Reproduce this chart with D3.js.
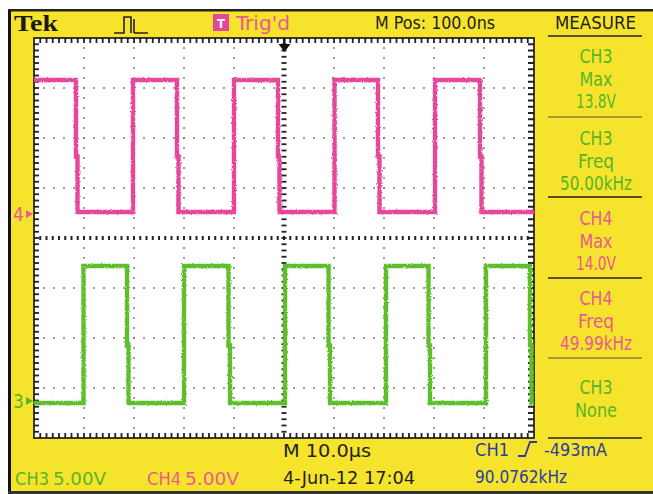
<!DOCTYPE html>
<html>
<head>
<meta charset="utf-8">
<script src="https://cdn.jsdelivr.net/npm/d3@7"></script>
<style>
  body { margin: 0; background: #fff; }
  svg { display: block; }
</style>
</head>
<body>
<div id="scope"></div>
<script>
// time axis in microseconds, 10 us/div, trigger at centre
const timeDomain = [-50, 50];
const divDomain = [-4, 4];

// CH4 (magenta): edge times in us, starts high
const ch4Edges = [-41.6, -30.2, -21.4, -10.0, -1.2, 10.1, 18.8, 30.2, 39.2];
const ch4Levels = {high: 13.4, low: 0.2, startHigh: true};
const ch4Offset = 0.48; // ground marker, in divisions

// CH3 (green): edge times in us, starts low
const ch3Edges = [-40.1, -31.4, -20.0, -11.1, 0.2, 8.9, 20.4, 28.9, 40.4, 49.2];
const ch3Levels = {high: 13.5, low: -0.2, startHigh: false};
const ch3Offset = -3.26;

const voltsPerDiv = 5;

// measurement panel text
const measureRows = [
  ['CH3', 'Max', '13.8V'],
  ['CH3', 'Freq', '50.00kHz'],
  ['CH4', 'Max', '14.0V'],
  ['CH4', 'Freq', '49.99kHz'],
  ['CH3', 'None']
];

const W = 653, H = 494;
const pink = '#e6469a', green = '#5fbf2c', blue = '#2b3ca6', yellow = '#f5e42b';
const pinkText = '#ea5a93', greenText = '#58b52a';
const font = '"DejaVu Sans Condensed", "Liberation Sans Narrow", sans-serif';

const svg = d3.select('#scope').append('svg')
    .attr('width', W).attr('height', H);

const defs = svg.append('defs');
const rough = defs.append('filter').attr('id', 'rough')
    .attr('x', '-5%').attr('y', '-5%').attr('width', '110%').attr('height', '110%');
rough.append('feTurbulence').attr('type', 'fractalNoise')
    .attr('baseFrequency', 0.8).attr('numOctaves', 1).attr('seed', 3).attr('result', 'n');
rough.append('feDisplacementMap').attr('in', 'SourceGraphic').attr('in2', 'n')
    .attr('scale', 3);

// frame
svg.append('rect').attr('width', W).attr('height', H).attr('fill', '#fff');
svg.append('rect').attr('x', 10).attr('y', 11).attr('width', W - 10).attr('height', H - 13)
    .attr('fill', yellow);
svg.append('rect').attr('x', 8).attr('y', 10).attr('width', 3).attr('height', H - 10).attr('fill', '#111');
svg.append('rect').attr('x', 8).attr('y', 9).attr('width', W - 8).attr('height', 2.5).attr('fill', '#222');
svg.append('rect').attr('x', 8).attr('y', H - 3).attr('width', W - 8).attr('height', 3).attr('fill', '#333');

const margin = {top: 38, left: 34},
    width = 500, height = 400;

const x = d3.scaleLinear().domain(timeDomain).range([margin.left, margin.left + width]);
const y = d3.scaleLinear().domain(divDomain).range([margin.top + height, margin.top]);

const plot = svg.append('g').attr('class', 'plot');
plot.append('rect')
    .attr('x', margin.left).attr('y', margin.top)
    .attr('width', width).attr('height', height)
    .attr('fill', '#fff');

// dotted graticule
const grid = plot.append('g').attr('fill', '#6a6a6a');
d3.range(-40, 50, 10).filter(t => t !== 0).forEach(t => {
  grid.selectAll(null).data(d3.range(-3.8, 4, 0.2)).join('rect')
      .attr('x', x(t) - 0.8).attr('y', d => y(d) - 0.8)
      .attr('width', 1.6).attr('height', 1.6);
});
d3.range(-3, 4, 1).filter(d => d !== 0).forEach(d => {
  grid.selectAll(null).data(d3.range(-48, 50, 2)).join('rect')
      .attr('x', t => x(t) - 0.8).attr('y', y(d) - 0.8)
      .attr('width', 1.6).attr('height', 1.6);
});

// centre cross with minor ticks
const ticks = plot.append('g').attr('fill', '#222');
ticks.selectAll(null).data(d3.range(-48.75, 50, 1.25)).join('rect')
    .attr('x', t => x(t) - 1).attr('y', y(0) - 2)
    .attr('width', 2).attr('height', 4);
ticks.selectAll(null).data(d3.range(-3.875, 4, 0.125)).join('rect')
    .attr('x', x(0) - 2.5).attr('y', d => y(d) - 0.9)
    .attr('width', 5).attr('height', 1.8);

// edge ticks
ticks.selectAll(null).data(d3.range(-48.75, 50, 1.25)).join('rect')
    .attr('x', t => x(t) - 0.9).attr('y', margin.top)
    .attr('width', 1.8).attr('height', 5);
ticks.selectAll(null).data(d3.range(-48.75, 50, 1.25)).join('rect')
    .attr('x', t => x(t) - 0.9).attr('y', margin.top + height - 5)
    .attr('width', 1.8).attr('height', 5);
ticks.selectAll(null).data(d3.range(-3.875, 4, 0.125)).join('rect')
    .attr('x', margin.left).attr('y', d => y(d) - 0.9)
    .attr('width', 5).attr('height', 1.8);
ticks.selectAll(null).data(d3.range(-3.875, 4, 0.125)).join('rect')
    .attr('x', margin.left + width - 6).attr('y', d => y(d) - 1)
    .attr('width', 6).attr('height', 2);

plot.append('rect')
    .attr('x', margin.left).attr('y', margin.top)
    .attr('width', width).attr('height', height)
    .attr('fill', 'none').attr('stroke', '#111').attr('stroke-width', 1.6);

// waveforms
function squareWave(edges, lv, offset) {
  const toDiv = v => offset + v / voltsPerDiv;
  let high = lv.startHigh;
  const pts = [[timeDomain[0], toDiv(high ? lv.high : lv.low)]];
  edges.forEach(t => {
    const from = toDiv(high ? lv.high : lv.low);
    const to = toDiv(high ? lv.low : lv.high);
    if (high) {
      // falling edges show a small shoulder part way down
      const mid = from + (to - from) * 0.58;
      pts.push([t, from], [t, mid], [t + 0.3, mid], [t + 0.3, to]);
    } else {
      pts.push([t, from], [t, to]);
    }
    high = !high;
  });
  pts.push([timeDomain[1], toDiv(high ? lv.high : lv.low)]);
  return pts;
}

const line = d3.line().x(d => x(d[0])).y(d => y(d[1]));

const traces = plot.append('g').attr('filter', 'url(#rough)')
    .attr('fill', 'none').attr('stroke-linejoin', 'miter');
traces.append('path')
    .datum(squareWave(ch4Edges, ch4Levels, ch4Offset))
    .attr('stroke', pink).attr('stroke-width', 4.4)
    .attr('d', line);
traces.append('path')
    .datum(squareWave(ch3Edges, ch3Levels, ch3Offset))
    .attr('stroke', green).attr('stroke-width', 4.4)
    .attr('d', line);

// trigger position arrow
const tx = x(0.1);
svg.append('rect').attr('x', tx - 1).attr('y', margin.top).attr('width', 2).attr('height', 8).attr('fill', '#111');
svg.append('path')
    .attr('d', `M${tx - 6},${margin.top + 6}L${tx + 6},${margin.top + 6}L${tx},${margin.top + 14}Z`)
    .attr('fill', '#111');

// ground markers
function marker(label, offset, color) {
  const gy = y(offset);
  svg.append('text').attr('x', 13).attr('y', gy + 7)
      .attr('font-family', font).attr('font-size', 19).attr('fill', color).text(label);
  svg.append('path')
      .attr('d', `M26,${gy - 4}L33,${gy}L26,${gy + 4}Z`).attr('fill', color);
}
marker('4', ch4Offset, pinkText);
marker('3', ch3Offset, greenText);

// text helper
function label(xp, yp, str, color, size, len, anchor) {
  const t = svg.append('text')
      .attr('x', xp).attr('y', yp)
      .attr('font-family', font).attr('font-size', size)
      .attr('fill', color).attr('text-anchor', anchor || 'start')
      .text(str);
  if (len) t.attr('textLength', len).attr('lengthAdjust', 'spacingAndGlyphs');
  return t;
}

// header
svg.append('text').attr('x', 14).attr('y', 31)
    .attr('font-family', '"Liberation Serif", "DejaVu Serif", serif')
    .attr('font-weight', 'bold').attr('font-size', 23).attr('fill', '#1a1a1a')
    .attr('textLength', 44).attr('lengthAdjust', 'spacingAndGlyphs')
    .text('Tek');
svg.append('path')
    .attr('d', 'M114,33L124,33L124,17L131,17L131,33 M134,33L134,19 M134,33L148,33')
    .attr('fill', 'none').attr('stroke', '#222').attr('stroke-width', 1.6);
svg.append('rect').attr('x', 213).attr('y', 14).attr('width', 16).attr('height', 17).attr('fill', pink);
label(221, 28, 'T', '#fff', 13, null, 'middle').attr('font-weight', 'bold');
label(236, 30, "Trig'd", pinkText, 19, 54);
label(375, 29, 'M Pos: 100.0ns', '#222', 18, 120);
label(555, 29, 'MEASURE', '#222', 18, 81);

// measure panel
const panelX = 596;
const rowTop = [63, 145, 225, 305, 394];
const sepY = [36, 117, 197, 278, 358, 438];
sepY.forEach((sy, i) => {
  svg.append('line').attr('x1', 548).attr('x2', 642).attr('y1', sy).attr('y2', sy)
      .attr('stroke', (i === 1 || i === 4) ? '#8a8040' : '#222')
      .attr('stroke-width', 1.5);
});
const lens = {'CH3': 33, 'CH4': 33, 'Max': 33, 'Freq': 36, 'None': 42,
  '13.8V': 40, '14.0V': 40, '50.00kHz': 72, '49.99kHz': 72};
measureRows.forEach((row, i) => {
  const c = row[0] === 'CH4' ? pinkText : greenText;
  row.forEach((s, j) => {
    label(panelX, rowTop[i] + j * 22.5, s, c, 19, lens[s], 'middle');
  });
});

// footer
label(283, 457, 'M 10.0\u00b5s', '#222', 17, 88);
label(475, 456, 'CH1', blue, 17, 34);
svg.append('path').attr('d', 'M518,456L525,456L530,442L537,442')
    .attr('fill', 'none').attr('stroke', blue).attr('stroke-width', 1.8);
label(544, 456, '-493mA', blue, 17, 63);
label(15, 485, 'CH3', greenText, 17, 34);
label(53, 485, '5.00V', greenText, 17, 53);
label(147, 485, 'CH4', pinkText, 17, 34);
label(185, 485, '5.00V', pinkText, 17, 54);
label(283, 484, '4-Jun-12 17:04', '#222', 17, 132);
label(475, 483, '90.0762kHz', blue, 17, 92);
</script>
</body>
</html>
